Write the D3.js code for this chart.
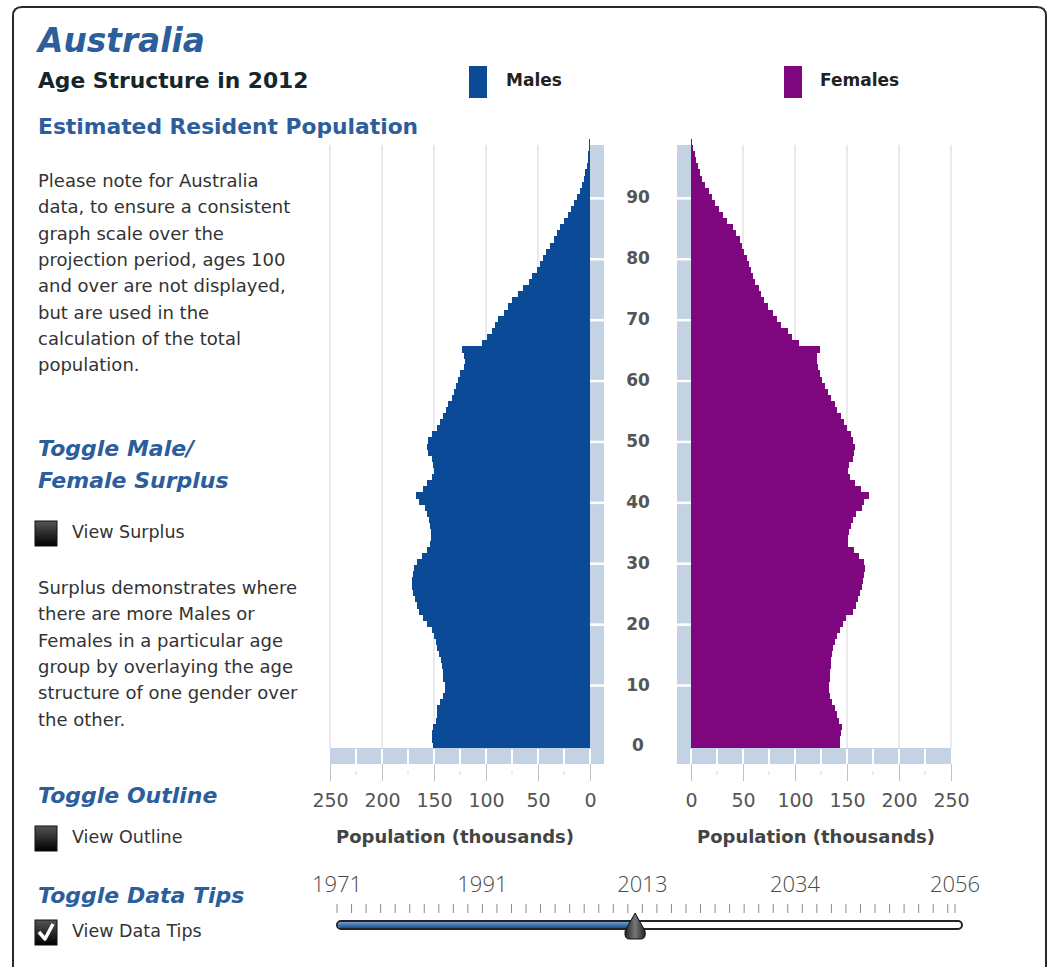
<!DOCTYPE html>
<html><head><meta charset="utf-8">
<script src="https://cdn.jsdelivr.net/npm/d3@7"></script>
<style>
html,body{margin:0;padding:0;background:#fff;}
svg{display:block;font-family:"DejaVu Sans",Verdana,sans-serif;}
</style></head><body>
<svg id="chart" width="1054" height="967"></svg>
<script>
// ---------- data ----------
const ages = d3.range(0, 100);
const males = [
  151, 152, 152, 150.6, 148, 147.4, 146.8, 144, 141, 139.4,
  139.4, 141, 141.7, 142.6, 143.6, 144.9, 146.8, 148, 150, 152,
  156.4, 161, 164, 166, 168, 169.9, 170.8, 171, 170.5, 169,
  166, 161.8, 157, 153.8, 152.9, 153, 153.8, 154.5, 156.4, 159,
  164, 167.3, 160.9, 157, 152, 150, 150.6, 152, 155.4, 156.4,
  155.4, 152, 147.4, 144, 141, 138.5, 136.2, 133, 130.8, 128.8,
  126.6, 125, 121, 120, 121, 123.4, 104, 99.4, 94.5, 91,
  88, 83, 79, 75, 69, 64, 59, 56, 51, 48,
  45, 42, 38.5, 35, 32, 29, 25, 21, 18, 15,
  12.5, 10, 8, 6, 4.5, 3.2, 2.2, 1.5, 1, 0.7
];
const females = [
  143, 143.5, 144, 145, 142, 140, 138.5, 136, 134, 133,
  133, 133.5, 134, 134.5, 135, 135.5, 137, 138.5, 140, 143,
  146, 149, 156, 159, 161, 162.5, 164, 165, 166.5, 167,
  166, 162, 157, 151, 151, 151.5, 154, 156, 159, 164,
  166, 171, 163, 158, 153, 151, 152, 156, 157, 158,
  156, 154, 150, 147, 144, 140, 138, 135, 132, 129,
  126, 124, 122, 121, 121, 124, 104, 97, 93, 87,
  83, 79, 74, 70, 67, 65, 62, 60, 58, 56,
  53.5, 51, 49, 47, 43, 40, 35, 31, 27, 23,
  20, 17, 13.5, 10.5, 8.5, 6.8, 5, 3.5, 2, 1
];
const popTicks = [0, 50, 100, 150, 200, 250];
const popMinor = [25, 75, 125, 175, 225];
const ageTicks = [0, 10, 20, 30, 40, 50, 60, 70, 80, 90];
const yearLabels = [1971, 1991, 2013, 2034, 2056];
const yearStart = 1971, yearEnd = 2056, selectedYear = 2012;
const noteLines = [
  "Please note for Australia",
  "data, to ensure a consistent",
  "graph scale over the",
  "projection period, ages 100",
  "and over are not displayed,",
  "but are used in the",
  "calculation of the total",
  "population."
];
const surplusLines = [
  "Surplus demonstrates where",
  "there are more Males or",
  "Females in a particular age",
  "group by overlaying the age",
  "structure of one gender over",
  "the other."
];

// ---------- setup ----------
const svg = d3.select('#chart');
const C = {male:'#0b4a96', female:'#7e067f', light:'#c3d3e3', grid:'#e3e3e8',
           title:'#2c5e9c', text:'#333', axis:'#555'};

const defs = svg.append('defs');
const gBox = defs.append('linearGradient').attr('id','box').attr('x1',0).attr('y1',0).attr('x2',0).attr('y2',1);
gBox.append('stop').attr('offset','0%').attr('stop-color','#555');
gBox.append('stop').attr('offset','100%').attr('stop-color','#000');
const gBlue = defs.append('linearGradient').attr('id','sl').attr('x1',0).attr('y1',0).attr('x2',0).attr('y2',1);
gBlue.append('stop').attr('offset','0%').attr('stop-color','#6d9ad0');
gBlue.append('stop').attr('offset','100%').attr('stop-color','#1e4f8c');
const gThumb = defs.append('linearGradient').attr('id','th').attr('x1',0).attr('y1',0).attr('x2',1).attr('y2',0);
gThumb.append('stop').attr('offset','0%').attr('stop-color','#222');
gThumb.append('stop').attr('offset','50%').attr('stop-color','#777');
gThumb.append('stop').attr('offset','100%').attr('stop-color','#222');

// frame
svg.append('path')
  .attr('d','M13,980 L13,16 Q13,7 22,7 L1037,7 Q1046,7 1046,16 L1046,980')
  .attr('fill','none').attr('stroke','#2a2a2a').attr('stroke-width',2);

// ---------- left column text ----------
svg.append('text').attr('x',38).attr('y',52).text('Australia')
  .attr('font-size',32.8).attr('font-weight','bold').attr('font-style','italic').attr('fill',C.title);
svg.append('text').attr('x',38).attr('y',88).text('Age Structure in 2012')
  .attr('font-size',21.8).attr('font-weight','bold').attr('fill','#16262a');
svg.append('text').attr('x',38).attr('y',134).text('Estimated Resident Population')
  .attr('font-size',21.8).attr('font-weight','bold').attr('fill',C.title);

svg.append('g').selectAll('text').data(noteLines).join('text')
  .attr('x',38).attr('y',(d,i)=>187+i*26.3).text(d=>d)
  .attr('font-size',18).attr('fill',C.text);

const heading = (t,yy)=>svg.append('text').attr('x',38).attr('y',yy).text(t)
  .attr('font-size',22).attr('font-weight','bold').attr('font-style','italic').attr('fill',C.title);
heading('Toggle Male/',456);
heading('Female Surplus',488);
heading('Toggle Outline',803);
heading('Toggle Data Tips',903);

const checkbox = (yy,label,checked)=>{
  svg.append('rect').attr('x',35).attr('y',yy).attr('width',22).attr('height',25)
    .attr('fill','url(#box)').attr('stroke','#111').attr('stroke-width',1);
  if(checked){
    svg.append('path').attr('d',`M39,${yy+12} L45,${yy+19} L53,${yy+4}`)
      .attr('fill','none').attr('stroke','#fff').attr('stroke-width',3.5).attr('stroke-linejoin','round');
  }
  svg.append('text').attr('x',72).attr('y',yy+17).text(label).attr('font-size',17.5).attr('fill',C.text);
};
checkbox(521,'View Surplus',false);
checkbox(826,'View Outline',false);
checkbox(920,'View Data Tips',true);

svg.append('g').selectAll('text').data(surplusLines).join('text')
  .attr('x',38).attr('y',(d,i)=>594+i*26.3).text(d=>d)
  .attr('font-size',18).attr('fill',C.text);

// ---------- legend ----------
svg.append('rect').attr('x',469).attr('y',66).attr('width',18).attr('height',32).attr('fill',C.male);
svg.append('text').attr('x',506).attr('y',86).text('Males').attr('font-size',17).attr('font-weight','bold').attr('fill','#222');
svg.append('rect').attr('x',784).attr('y',66).attr('width',18).attr('height',32).attr('fill',C.female);
svg.append('text').attr('x',820).attr('y',86).text('Females').attr('font-size',17).attr('font-weight','bold').attr('fill','#222');

// ---------- pyramid ----------
const yTop = 139, yBot = 748;
const y = d3.scaleBand().domain(ages).range([yBot, yTop]);
const bw = y.bandwidth();
const xM = d3.scaleLinear().domain([0,250]).range([590,330]);
const xF = d3.scaleLinear().domain([0,250]).range([691,951]);
const plotTop = 145;

// gridlines
const grid = svg.append('g');
popTicks.filter(t=>t>0).forEach(t=>{
  grid.append('line').attr('x1',xM(t)).attr('x2',xM(t)).attr('y1',plotTop).attr('y2',yBot)
    .attr('stroke',C.grid).attr('stroke-width',1.5);
  grid.append('line').attr('x1',xF(t)).attr('x2',xF(t)).attr('y1',plotTop).attr('y2',yBot)
    .attr('stroke',C.grid).attr('stroke-width',1.5);
});

// bars
svg.append('g').attr('shape-rendering','crispEdges').selectAll('rect').data(ages).join('rect')
  .attr('x',a=>xM(males[a])).attr('width',a=>xM(0)-xM(males[a]))
  .attr('y',a=>y(a)).attr('height',bw+0.6).attr('fill',C.male);
svg.append('g').attr('shape-rendering','crispEdges').selectAll('rect').data(ages).join('rect')
  .attr('x',xF(0)).attr('width',a=>xF(females[a])-xF(0))
  .attr('y',a=>y(a)).attr('height',bw+0.6).attr('fill',C.female);

// light axis bars
const barW = 14;
svg.append('rect').attr('x',xM(0)).attr('y',plotTop).attr('width',barW).attr('height',yBot+16-plotTop).attr('fill',C.light);
svg.append('rect').attr('x',xF(0)-barW).attr('y',plotTop).attr('width',barW).attr('height',yBot+16-plotTop).attr('fill',C.light);
svg.append('rect').attr('x',xM(250)).attr('y',yBot).attr('width',xM(0)+barW-xM(250)).attr('height',16).attr('fill',C.light);
svg.append('rect').attr('x',xF(0)-barW).attr('y',yBot).attr('width',xF(250)-xF(0)+barW).attr('height',16).attr('fill',C.light);

// separators on the bottom bars (every 25)
const sepVals = popTicks.concat(popMinor).filter(t=>t<250);
sepVals.forEach(t=>{
  svg.append('line').attr('x1',xM(t)).attr('x2',xM(t)).attr('y1',yBot+1).attr('y2',yBot+16).attr('stroke','#fff').attr('stroke-width',2);
  svg.append('line').attr('x1',xF(t)).attr('x2',xF(t)).attr('y1',yBot+1).attr('y2',yBot+16).attr('stroke','#fff').attr('stroke-width',2);
});
// white notches on the vertical bars
ageTicks.filter(a=>a>0).forEach(a=>{
  const yy = y(a)+bw/2+1.5;
  svg.append('line').attr('x1',xM(0)).attr('x2',xM(0)+barW).attr('y1',yy).attr('y2',yy).attr('stroke','#fff').attr('stroke-width',2.5);
  svg.append('line').attr('x1',xF(0)-barW).attr('x2',xF(0)).attr('y1',yy).attr('y2',yy).attr('stroke','#fff').attr('stroke-width',2.5);
});

// age labels
svg.append('g').selectAll('text').data(ageTicks).join('text')
  .attr('x',638).attr('y',a=>y(a)+bw/2+6.5).attr('text-anchor','middle').text(a=>a)
  .attr('font-size',17).attr('font-weight','bold').attr('fill',C.axis);

// bottom axes
const styleAxis = g=>{
  g.select('.domain').remove();
  g.selectAll('.tick line').attr('stroke','#bcc3cc').attr('stroke-width',1);
  g.selectAll('.tick text').attr('font-size',19).attr('fill',C.axis)
    .attr('font-family','"DejaVu Sans",Verdana,sans-serif');
};
const axY = yBot+16;
svg.append('g').attr('transform',`translate(0,${axY})`)
  .call(d3.axisBottom(xM).tickValues(popTicks).tickSize(17).tickPadding(13)).call(styleAxis);
svg.append('g').attr('transform',`translate(0,${axY})`)
  .call(d3.axisBottom(xF).tickValues(popTicks).tickSize(17).tickPadding(13)).call(styleAxis);
[xM,xF].forEach(sc=>{
  popMinor.forEach(t=>{
    svg.append('line').attr('x1',sc(t)).attr('x2',sc(t)).attr('y1',axY+7).attr('y2',axY+11)
      .attr('stroke','#e6d6d6').attr('stroke-width',1);
  });
});

svg.append('text').attr('x',(xM(0)+xM(250))/2-5).attr('y',843).attr('text-anchor','middle')
  .text('Population (thousands)').attr('font-size',18).attr('font-weight','bold').attr('fill','#444');
svg.append('text').attr('x',(xF(0)+xF(250))/2-5).attr('y',843).attr('text-anchor','middle')
  .text('Population (thousands)').attr('font-size',18).attr('font-weight','bold').attr('fill','#444');

// ---------- year slider ----------
const xYear = d3.scaleLinear().domain([yearStart, yearEnd]).range([337, 955]);
svg.append('g').selectAll('text').data(yearLabels).join('text')
  .attr('x',d=>xYear(d)).attr('y',892).attr('text-anchor','middle').text(d=>d)
  .attr('font-family','"Open Sans",sans-serif').attr('font-weight',300)
  .attr('font-size',22).attr('fill','#4a4a4a');
const yearTicks = d3.range(yearStart, yearEnd, 2).concat([yearEnd]);
svg.append('g').selectAll('line').data(yearTicks).join('line')
  .attr('x1',d=>xYear(d)).attr('x2',d=>xYear(d)).attr('y1',904).attr('y2',913)
  .attr('stroke','#8a8a8a').attr('stroke-width',1);
svg.append('rect').attr('x',337).attr('y',921).attr('width',625).attr('height',8).attr('rx',4)
  .attr('fill','#fff').attr('stroke','#222').attr('stroke-width',2);
svg.append('rect').attr('x',338).attr('y',922).attr('width',xYear(selectedYear)-338).attr('height',6).attr('rx',3)
  .attr('fill','url(#sl)');
const tx = xYear(selectedYear);
svg.append('path')
  .attr('d',`M${tx},913 L${tx+10},931 Q${tx+11},939 ${tx+6},939 L${tx-6},939 Q${tx-11},939 ${tx-10},931 Z`)
  .attr('fill','url(#th)').attr('stroke','#111').attr('stroke-width',1);
</script>
</body></html>
